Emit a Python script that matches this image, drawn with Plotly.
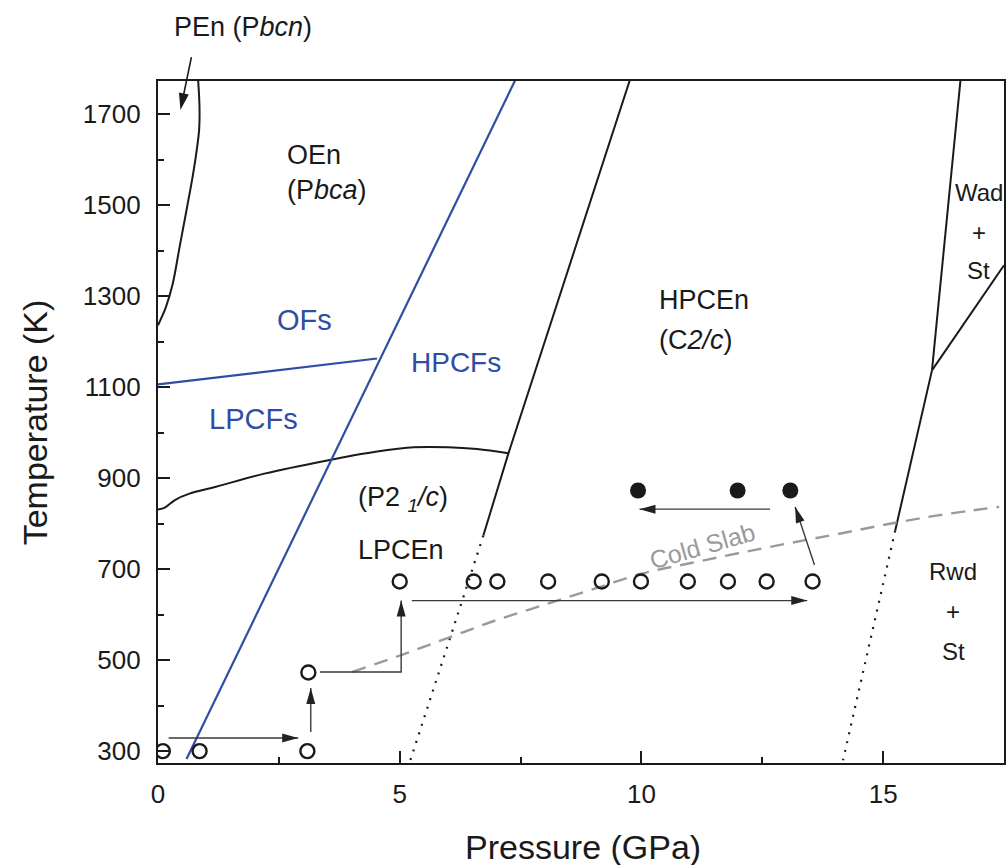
import math
import plotly.graph_objects as go

# ---------------- data (P in GPa, T in K) ----------------
# protoenstatite (PEn) boundary
pen_P = [0.0, 0.06, 0.16, 0.30, 0.45, 0.60, 0.72, 0.80, 0.85, 0.86, 0.85, 0.83]
pen_T = [1236, 1250, 1275, 1325, 1410, 1495, 1565, 1620, 1665, 1705, 1740, 1775]
# OEn / LPCEn boundary
oen_P = [0.0, 0.15, 0.35, 0.65, 1.2, 2.2, 3.5, 4.5, 5.3, 6.0, 6.6, 7.25]
oen_T = [831, 836, 852, 866, 881, 910, 939, 958, 968, 968, 964, 955]
# LPCEn / HPCEn boundary (solid, then dotted extrapolation)
hpc_P = [9.76, 7.25, 6.73]
hpc_T = [1775, 955, 774]
hpc_dot_P = [6.73, 5.22]
hpc_dot_T = [774, 280]
# HPCEn / (Wad+St), (Rwd+St) boundaries
wad_P = [16.60, 16.01]
wad_T = [1775, 1137]
rwd_P = [16.01, 15.25]
rwd_T = [1137, 785]
rwd_dot_P = [15.25, 14.17]
rwd_dot_T = [785, 280]
ws_P = [16.01, 17.5]
ws_T = [1137, 1368]
# ferrosilite boundaries (blue)
ofs_P = [0.59, 7.39]
ofs_T = [283, 1775]
lpcfs_P = [0.0, 4.53]
lpcfs_T = [1106, 1163]
# cold slab geotherm
slab_P = [4.02, 5.0, 6.0, 7.0, 8.0, 9.0, 10.0, 11.0, 12.0, 13.0, 14.0, 15.0, 16.0, 16.84, 17.4]
slab_T = [474, 510, 549, 588, 622, 656, 690, 713, 735, 756, 776, 797, 816, 829, 837]
# experimental points
open_P = [0.10, 0.86, 3.09, 3.11, 5.00, 6.53, 7.02, 8.07, 9.18, 9.99, 10.96, 11.79, 12.59, 13.54]
open_T = [300, 300, 300, 473, 673, 673, 673, 673, 673, 673, 673, 673, 673, 673]
filled_P = [9.93, 11.99, 13.08]
filled_T = [873, 873, 873]
# P-T path arrows (list of vertices, last one is the tip)
path_P = [[0.22, 2.90], [3.16, 3.16], [3.35, 5.03, 5.03], [5.25, 13.43], [13.58, 13.18], [12.66, 9.96]]
path_T = [[329, 329], [342, 439], [474, 474, 631], [631, 631], [709, 837], [832, 832]]

# ---------------- layout constants ----------------
W, H = 1008, 865
ML, MR, MT, MB = 158, 2, 81, 102
XR = [0, 17.5]
YR = [274, 1773]
PW, PH = W - ML - MR, H - MT - MB
SX = PW / (XR[1] - XR[0])
SY = PH / (YR[1] - YR[0])
FONT = "Liberation Sans, Arial, Helvetica, sans-serif"
BLUE = "#2f4ea3"
BLACK = "#1a1a1a"
GRAY = "#9a9a9a"
ARROW = "#3a3a3a"

fig = go.Figure()


def line(px, py, color=BLACK, width=2.0, dash="solid", shape="linear"):
    fig.add_trace(go.Scatter(x=px, y=py, mode="lines", hoverinfo="skip",
                             line=dict(color=color, width=width, dash=dash, shape=shape),
                             showlegend=False))


line(pen_P, pen_T, shape="spline")
line(oen_P, oen_T, shape="spline")
line(hpc_P, hpc_T)
line(hpc_dot_P, hpc_dot_T, width=2.2, dash="2px,7px")
line(wad_P, wad_T)
line(rwd_P, rwd_T)
line(rwd_dot_P, rwd_dot_T, width=2.2, dash="2px,7px")
line(ws_P, ws_T)
line(ofs_P, ofs_T, color=BLUE, width=2.2)
line(lpcfs_P, lpcfs_T, color=BLUE, width=2.2)
line(slab_P, slab_T, color=GRAY, width=2.4, dash="14px,9px", shape="spline")

shapes = []


def head(tipx, tipy, fromx, fromy, L=16, Wd=9, color="#222222"):
    dx = (tipx - fromx) * SX
    dy = (tipy - fromy) * SY
    n = math.hypot(dx, dy)
    ux, uy = dx / n, dy / n
    bx, by = -ux * L, -uy * L
    nx, ny = -uy * Wd / 2, ux * Wd / 2
    path = "M0,0 L{:.2f},{:.2f} L{:.2f},{:.2f} Z".format(bx + nx, by + ny, bx - nx, by - ny)
    shapes.append(dict(type="path", xref="x", yref="y", xsizemode="pixel", ysizemode="pixel",
                       xanchor=tipx, yanchor=tipy, path=path, fillcolor=color,
                       line=dict(width=0)))


for px, py in zip(path_P, path_T):
    line(px, py, color=ARROW, width=1.4)
    head(px[-1], py[-1], px[-2], py[-2])

fig.add_trace(go.Scatter(x=open_P, y=open_T, mode="markers", hoverinfo="skip", showlegend=False,
                         marker=dict(symbol="circle-open", size=14, color=BLACK, line=dict(width=2.4))))
fig.add_trace(go.Scatter(x=filled_P, y=filled_T, mode="markers", hoverinfo="skip", showlegend=False,
                         marker=dict(symbol="circle", size=16, color=BLACK)))

# PEn pointer arrow (tail above the frame) drawn in paper space so it is not clipped
pen_tip = (0.464, 1709)
pen_tail_px = (11, -53)   # pixel offset of tail from tip (x right, y down)
tip_px = ((pen_tip[0] - XR[0]) * SX, (pen_tip[1] - YR[0]) * SY)  # from bottom-left of plot, y up
tail_px = (tip_px[0] + pen_tail_px[0], tip_px[1] - pen_tail_px[1])
head_len = 17
ux = (tip_px[0] - tail_px[0]); uy = (tip_px[1] - tail_px[1]); nn = math.hypot(ux, uy)
shaft_end = (tip_px[0] - ux / nn * (head_len - 2), tip_px[1] - uy / nn * (head_len - 2))
shapes.append(dict(type="line", xref="paper", yref="paper",
                   x0=tail_px[0] / PW, y0=tail_px[1] / PH, x1=shaft_end[0] / PW, y1=shaft_end[1] / PH,
                   line=dict(color=BLACK, width=1.6)))
head(pen_tip[0], pen_tip[1], pen_tip[0] - ux / SX, pen_tip[1] - uy / SY, L=head_len, Wd=10, color=BLACK)

ann = []


def txt(x, y, s, size=27, color=BLACK, xanchor="center", angle=0, xref="x", yref="y"):
    ann.append(dict(x=x, y=y, xref=xref, yref=yref, text=s, showarrow=False, xanchor=xanchor,
                    yanchor="middle", textangle=angle,
                    font=dict(family=FONT, size=size, color=color)))


txt(0.101, 1.079, "PEn (P<i>bcn</i>)", size=27, xref="paper", yref="paper")
txt(2.63, 1610, "OEn", xanchor="left")
txt(2.63, 1533, "(P<i>bca</i>)", xanchor="left")
txt(3.04, 1247, "OFs", size=29, color=BLUE)
txt(6.17, 1155, "HPCFs", size=28, color=BLUE)
txt(1.97, 1031, "LPCFs", size=29, color=BLUE)
txt(10.32, 1292, "HPCEn", xanchor="left")
txt(10.32, 1204, "(C<i>2/c</i>)", xanchor="left")
txt(4.09, 855, "(P2 <i><sub>1</sub>/c</i>)", xanchor="left")
txt(4.09, 743, "LPCEn", xanchor="left")
txt(16.45, 694, "Rwd", size=24)
txt(16.45, 606, "+", size=24)
txt(16.45, 518, "St", size=24)
txt(16.98, 1529, "Wad", size=24)
txt(16.98, 1441, "+", size=24)
txt(16.98, 1357, "St", size=24)
txt(11.25, 752, "Cold Slab", size=25, color=GRAY, angle=-16)
txt(0.502, -0.123, "Pressure (GPa)", size=34, xref="paper", yref="paper")
txt(-0.145, 0.5, "Temperature (K)", size=34, angle=-90, xref="paper", yref="paper")

axis_common = dict(showline=True, linecolor=BLACK, linewidth=2.2, mirror=True, showgrid=False,
                   zeroline=False, ticks="inside", ticklen=12, tickwidth=2.2, tickcolor=BLACK,
                   tickfont=dict(family=FONT, size=26, color=BLACK))

fig.update_layout(
    width=W, height=H, margin=dict(l=ML, r=MR, t=MT, b=MB),
    paper_bgcolor="white", plot_bgcolor="white",
    xaxis=dict(range=XR, tick0=0, dtick=5, ticklabelstandoff=7,
               minor=dict(ticks="inside", ticklen=6, tickwidth=2, tickcolor=BLACK, dtick=2.5, tick0=0),
               **axis_common),
    yaxis=dict(range=YR, tick0=300, dtick=200, ticklabelstandoff=10,
               minor=dict(ticks="inside", ticklen=6, tickwidth=2, tickcolor=BLACK, dtick=100, tick0=300),
               **axis_common),
    shapes=shapes, annotations=ann, showlegend=False,
)

fig.write_html("out.html")
